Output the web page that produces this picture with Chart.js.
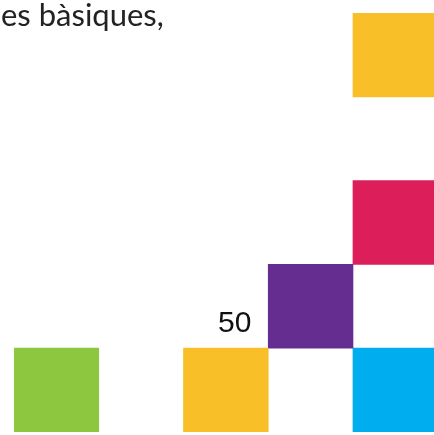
<!DOCTYPE html>
<html>
<head>
<meta charset="utf-8">
<script src="https://cdn.jsdelivr.net/npm/chart.js@4.4.0/dist/chart.umd.min.js"></script>
<style>
  html, body { margin: 0; padding: 0; background: #ffffff; }
  #wrap { position: relative; width: 434px; height: 435px; overflow: hidden; }
  #c { position: absolute; left: 0; top: 0; }
  #title { position: absolute; left: 1px; top: -4px; font-family: Lato, "Open Sans", sans-serif; font-size: 31px; font-weight: 400; color: #222; white-space: nowrap; line-height: 1.2; }
  #label { position: absolute; left: 218px; top: 305px; font-family: "Liberation Sans", Arial, sans-serif; font-size: 30px; color: #111; }
</style>
</head>
<body>
<div id="wrap">
  <canvas id="c" width="434" height="435"></canvas>
  <div id="title">es bàsiques,</div>
  <div id="label">50</div>
</div>
<script>
// Grid cells: column index, row index (row 0 = bottom)
const cellColumns = [0, 2, 3, 4, 4, 4];
const cellRows    = [0, 0, 1, 0, 2, 4];
const cellColors  = ['#8DC63F', '#F9BF28', '#662D91', '#00AEEF', '#DC1E5B', '#F9BF28'];
const columnTicks = [0, 1, 2, 3, 4];

const datasets = cellColumns.map((col, i) => ({
  data: [{ x: col, y: [cellRows[i], cellRows[i] + 1] }],
  backgroundColor: cellColors[i],
  borderWidth: 0,
  barPercentage: 1,
  categoryPercentage: 1
}));

new Chart(document.getElementById('c'), {
  type: 'bar',
  data: { datasets },
  options: {
    responsive: false,
    animation: false,
    grouped: false,
    layout: { padding: { left: 14, right: 0, top: 13, bottom: 3 } },
    plugins: { legend: { display: false }, tooltip: { enabled: false } },
    scales: {
      x: {
        type: 'linear', min: -0.5, max: 4.456, offset: false, display: false, grid: { display: false },
        afterBuildTicks: (scale) => { scale.ticks = columnTicks.map(v => ({ value: v })); }
      },
      y: { type: 'linear', min: 0, max: 5, display: false, grid: { display: false } }
    }
  }
});
</script>
</body>
</html>
